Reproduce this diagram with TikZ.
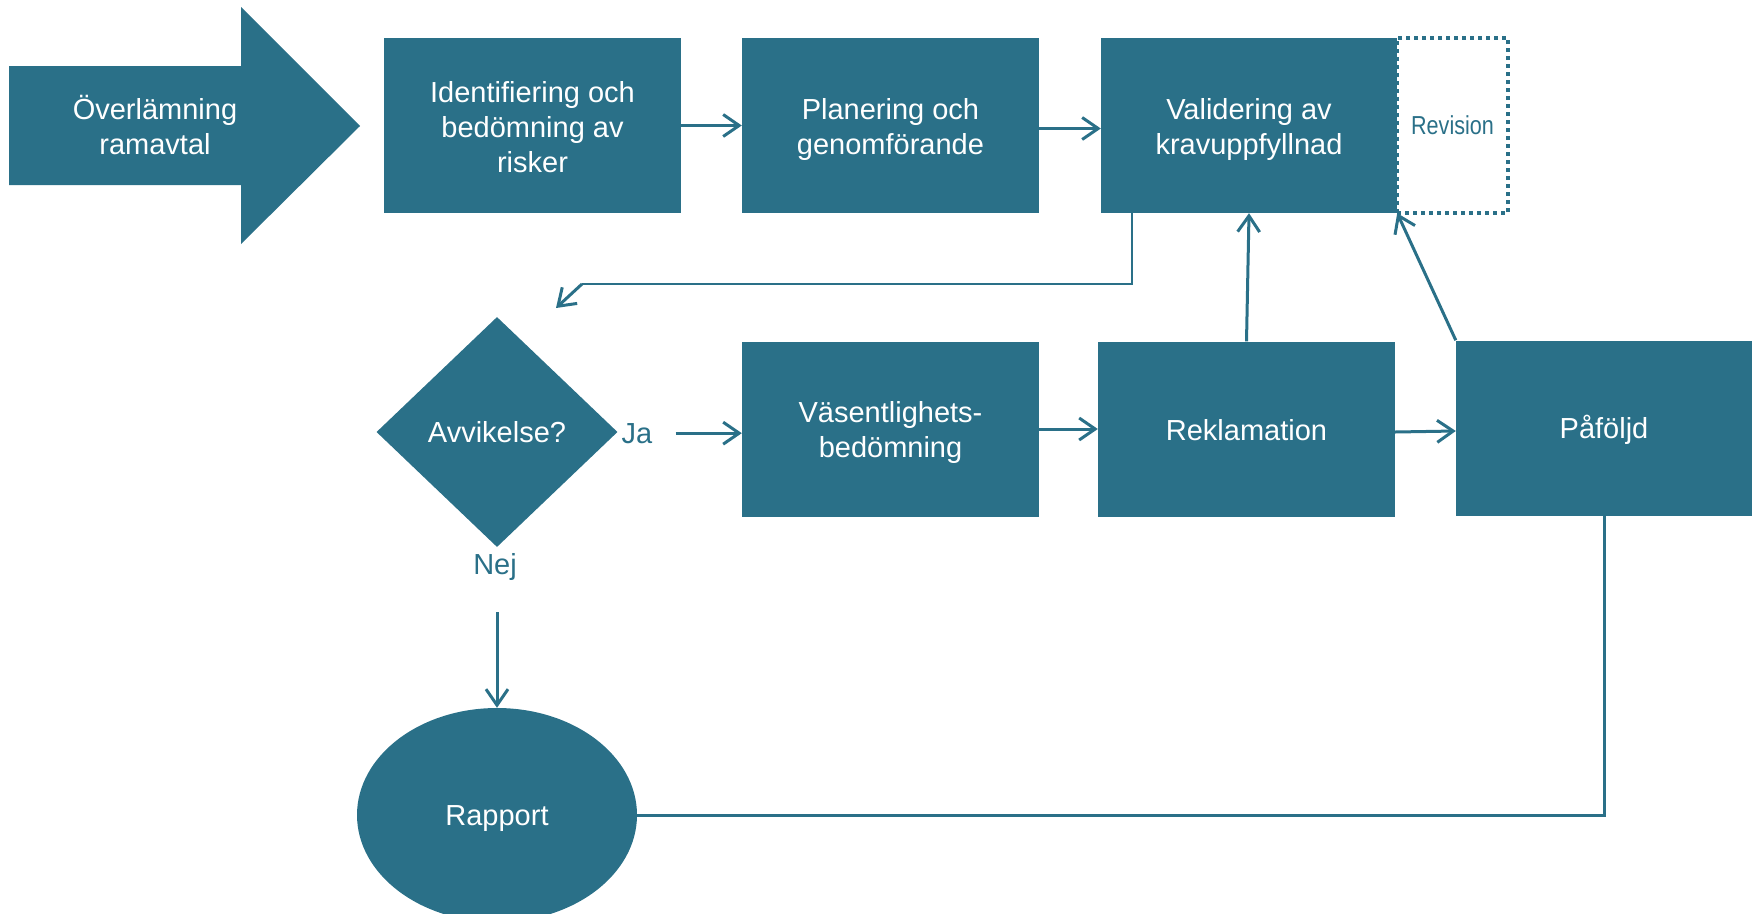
\documentclass[tikz,border=0pt]{standalone}
\usepackage{fontspec}
\setmainfont{Liberation Sans}
\usetikzlibrary{shapes.geometric,arrows.meta}
\definecolor{teal1}{RGB}{42,112,136}
\begin{document}
\begin{tikzpicture}[x=1pt,y=-1pt,
  box/.style={rectangle, fill=teal1, minimum width=297pt, minimum height=175pt, inner sep=0pt},
  btxt/.style={text=white, inner sep=0pt, align=center, font=\fontsize{29}{35}\selectfont},
  arr/.style={draw=teal1, line width=3pt, -{Straight Barb[length=16pt,width=22pt]}},
  conn/.style={draw=teal1, line width=3pt},
  lbl/.style={text=teal1, font=\fontsize{29}{35}\selectfont, inner sep=0pt}]
\useasboundingbox (0,0) rectangle (1760,913);
\clip (0,0) rectangle (1760,913);
% big arrow
\fill[teal1] (9,66) -- (241,66) -- (241,7) -- (360,126) -- (241,244) -- (241,185) -- (9,185) -- cycle;
\node[btxt] (ovl) at (155,125) {Överlämning\\ramavtal};
% boxes
\node[box] (b1) at (532.5,125.5) {};
\node[btxt] (t1) at (532.5,127.5) {Identifiering och\\bedömning av\\risker};
\node[box] (b2) at (890.5,125.5) {};
\node[btxt] (t2) at (890.5,129) {Planering och\\genomförande};
\node[box, minimum width=296pt] (b3) at (1249,125.5) {};
\node[btxt] (t3) at (1249,129) {Validering av\\kravuppfyllnad};
\node[draw=teal1, dash pattern=on 4pt off 4pt, line width=3.5pt, minimum width=111pt, minimum height=175pt, inner sep=0pt, text=teal1, font=\fontsize{26}{30}\selectfont] (rev) at (1452.5,125.5) {\scalebox{0.83}[1]{Revision}};
\node[box] (b4) at (890.5,429) {};
\node[btxt] (t4) at (890.5,432.5) {Väsentlighets-\\bedömning};
\node[box] (b5) at (1246.5,429) {};
\node[btxt] (t5) at (1246.5,430) {Reklamation};
\node[box, minimum width=296pt] (b6) at (1604,428) {};
\node[btxt] (t6) at (1604,430) {Påföljd};
\node[diamond, fill=teal1, text=white, inner sep=0pt, minimum width=241pt, minimum height=230pt, font=\fontsize{29}{35}\selectfont] (dia) at (497,432) {Avvikelse?};
\node[ellipse, fill=teal1, minimum width=280pt, minimum height=214pt, inner sep=0pt] (ell) at (497,815) {};
\node[btxt] (t7) at (497,818.5) {Rapport};
\node[lbl, anchor=base] (ja) at (637,443) {Ja};
\node[lbl, anchor=base] (nej) at (495,574) {Nej};
% connectors
\draw[arr] (b1.east) -- (b2.west);
\draw[arr] ([yshift=-3pt]b2.east) -- ([yshift=-3pt]b3.west);
\coordinate (c1) at (1132,284);
\coordinate (c2) at (582,284);
\coordinate (c3) at (556,308);
\draw[teal1, line width=2pt] (b3.south -| c1) -- (c1) -- (c2);
\draw[arr] (c2) -- (c3);
\draw[arr] ([xshift=23pt]ja.east) -- (b4.west |- ja.east);
\draw[arr] (b4.east) -- (b5.west);
\draw[arr] ([yshift=-3pt]b5.east) -- ([yshift=-3pt]b6.west);
\draw[arr] (b5.north) -- (b3.south);
\draw[arr] (b6.north west) -- (b3.south east);
\coordinate (n1) at (497,612);
\draw[arr] (n1) -- (ell.north);
\draw[conn] (ell.east) -| (b6.south);
\end{tikzpicture}
\end{document}
